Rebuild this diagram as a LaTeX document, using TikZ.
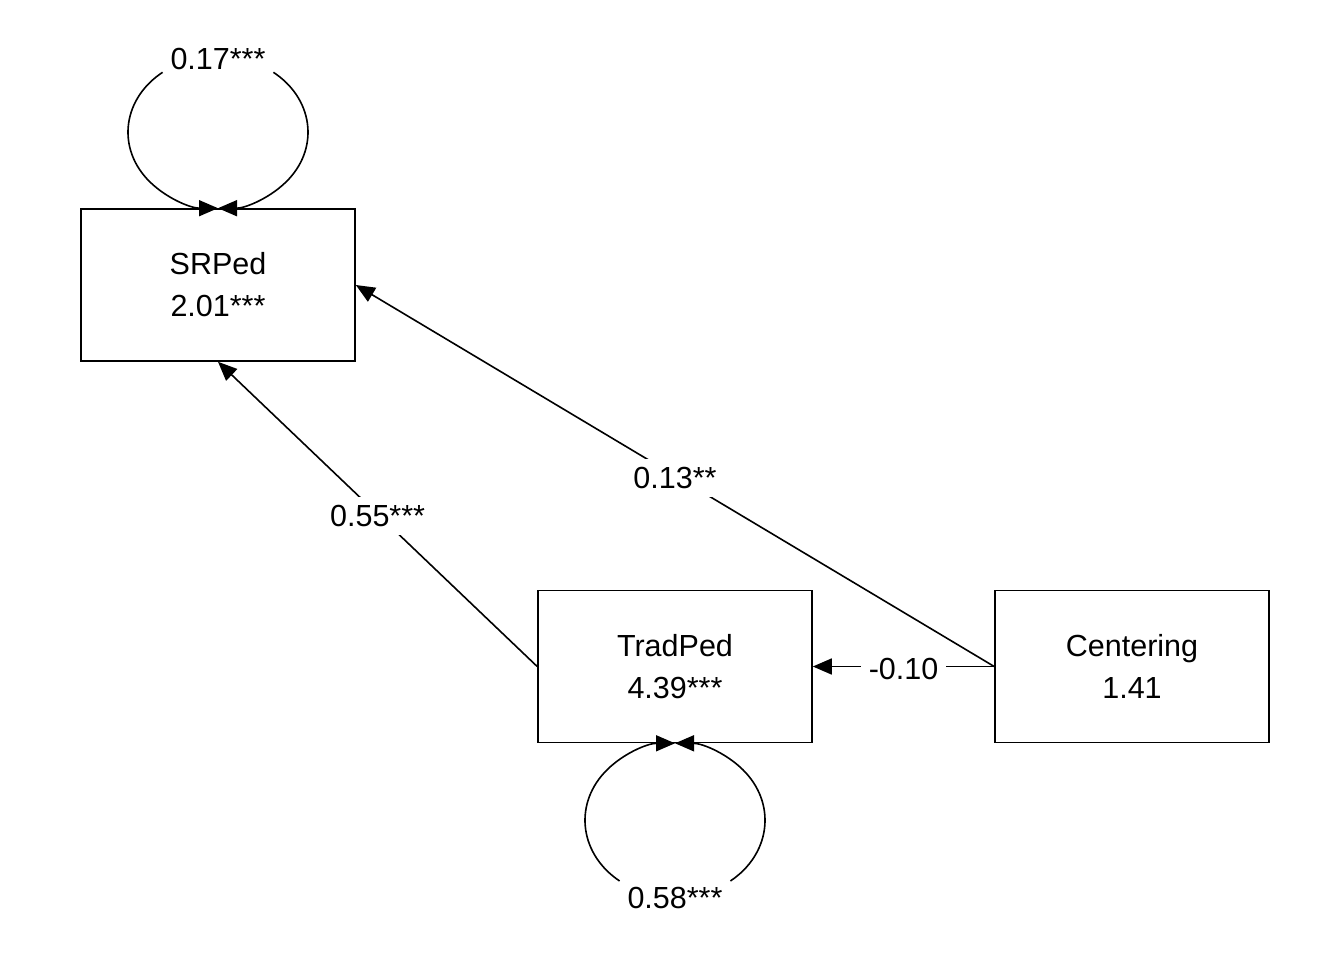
\documentclass[tikz,border=0pt]{standalone}
\usepackage{fontspec}
\setmainfont{Liberation Sans}
\usetikzlibrary{arrows.meta,calc}
\begin{document}
\begin{tikzpicture}[x=1pt,y=-1pt,
  every node/.style={font=\fontsize{30.5}{42}\selectfont},
  varbox/.style={draw,line width=1.6pt,minimum width=274pt,minimum height=152pt,inner sep=0pt,align=center},
  conn/.style={line width=1.6pt,-{Triangle[length=19pt,width=16pt]}},
  lab/.style={fill=white,inner sep=8pt,yshift=-2pt},
  looplab/.style={inner sep=2pt}]
\useasboundingbox (0,0) rectangle (1344,960);
\node[varbox] (srped) at (218,285) {\raisebox{-2pt}{SRPed}\\\raisebox{-2pt}{2.01***}};
\node[varbox] (tradped) at (675,666.5) {\raisebox{-2pt}{TradPed}\\\raisebox{-2pt}{4.39***}};
\node[varbox] (centering) at (1132,666.5) {\raisebox{-2pt}{Centering}\\\raisebox{-2pt}{1.41}};
% regressions
\draw[conn] (tradped.west) -- node[lab] {0.55***} (srped.south);
\draw[conn] (centering.west) -- node[lab] {0.13**} (srped.east);
\draw[conn] (centering.west) -- node[lab] {-0.10} (tradped.east);
% self loops
\node[looplab] (l1) at (218,59) {0.17***};
\node[looplab] (l2) at (675,898) {0.58***};
\draw[conn] ($(srped.north)+(0,-76)$) ++(232:90 and 76) arc[start angle=232,end angle=90,x radius=90,y radius=76];
\draw[conn] ($(srped.north)+(0,-76)$) ++(-52:90 and 76) arc[start angle=-52,end angle=90,x radius=90,y radius=76];
\draw[conn] ($(tradped.south)+(0,77)$) ++(128:90 and 77) arc[start angle=128,end angle=270,x radius=90,y radius=77];
\draw[conn] ($(tradped.south)+(0,77)$) ++(52:90 and 77) arc[start angle=52,end angle=-90,x radius=90,y radius=77];
\end{tikzpicture}
\end{document}
